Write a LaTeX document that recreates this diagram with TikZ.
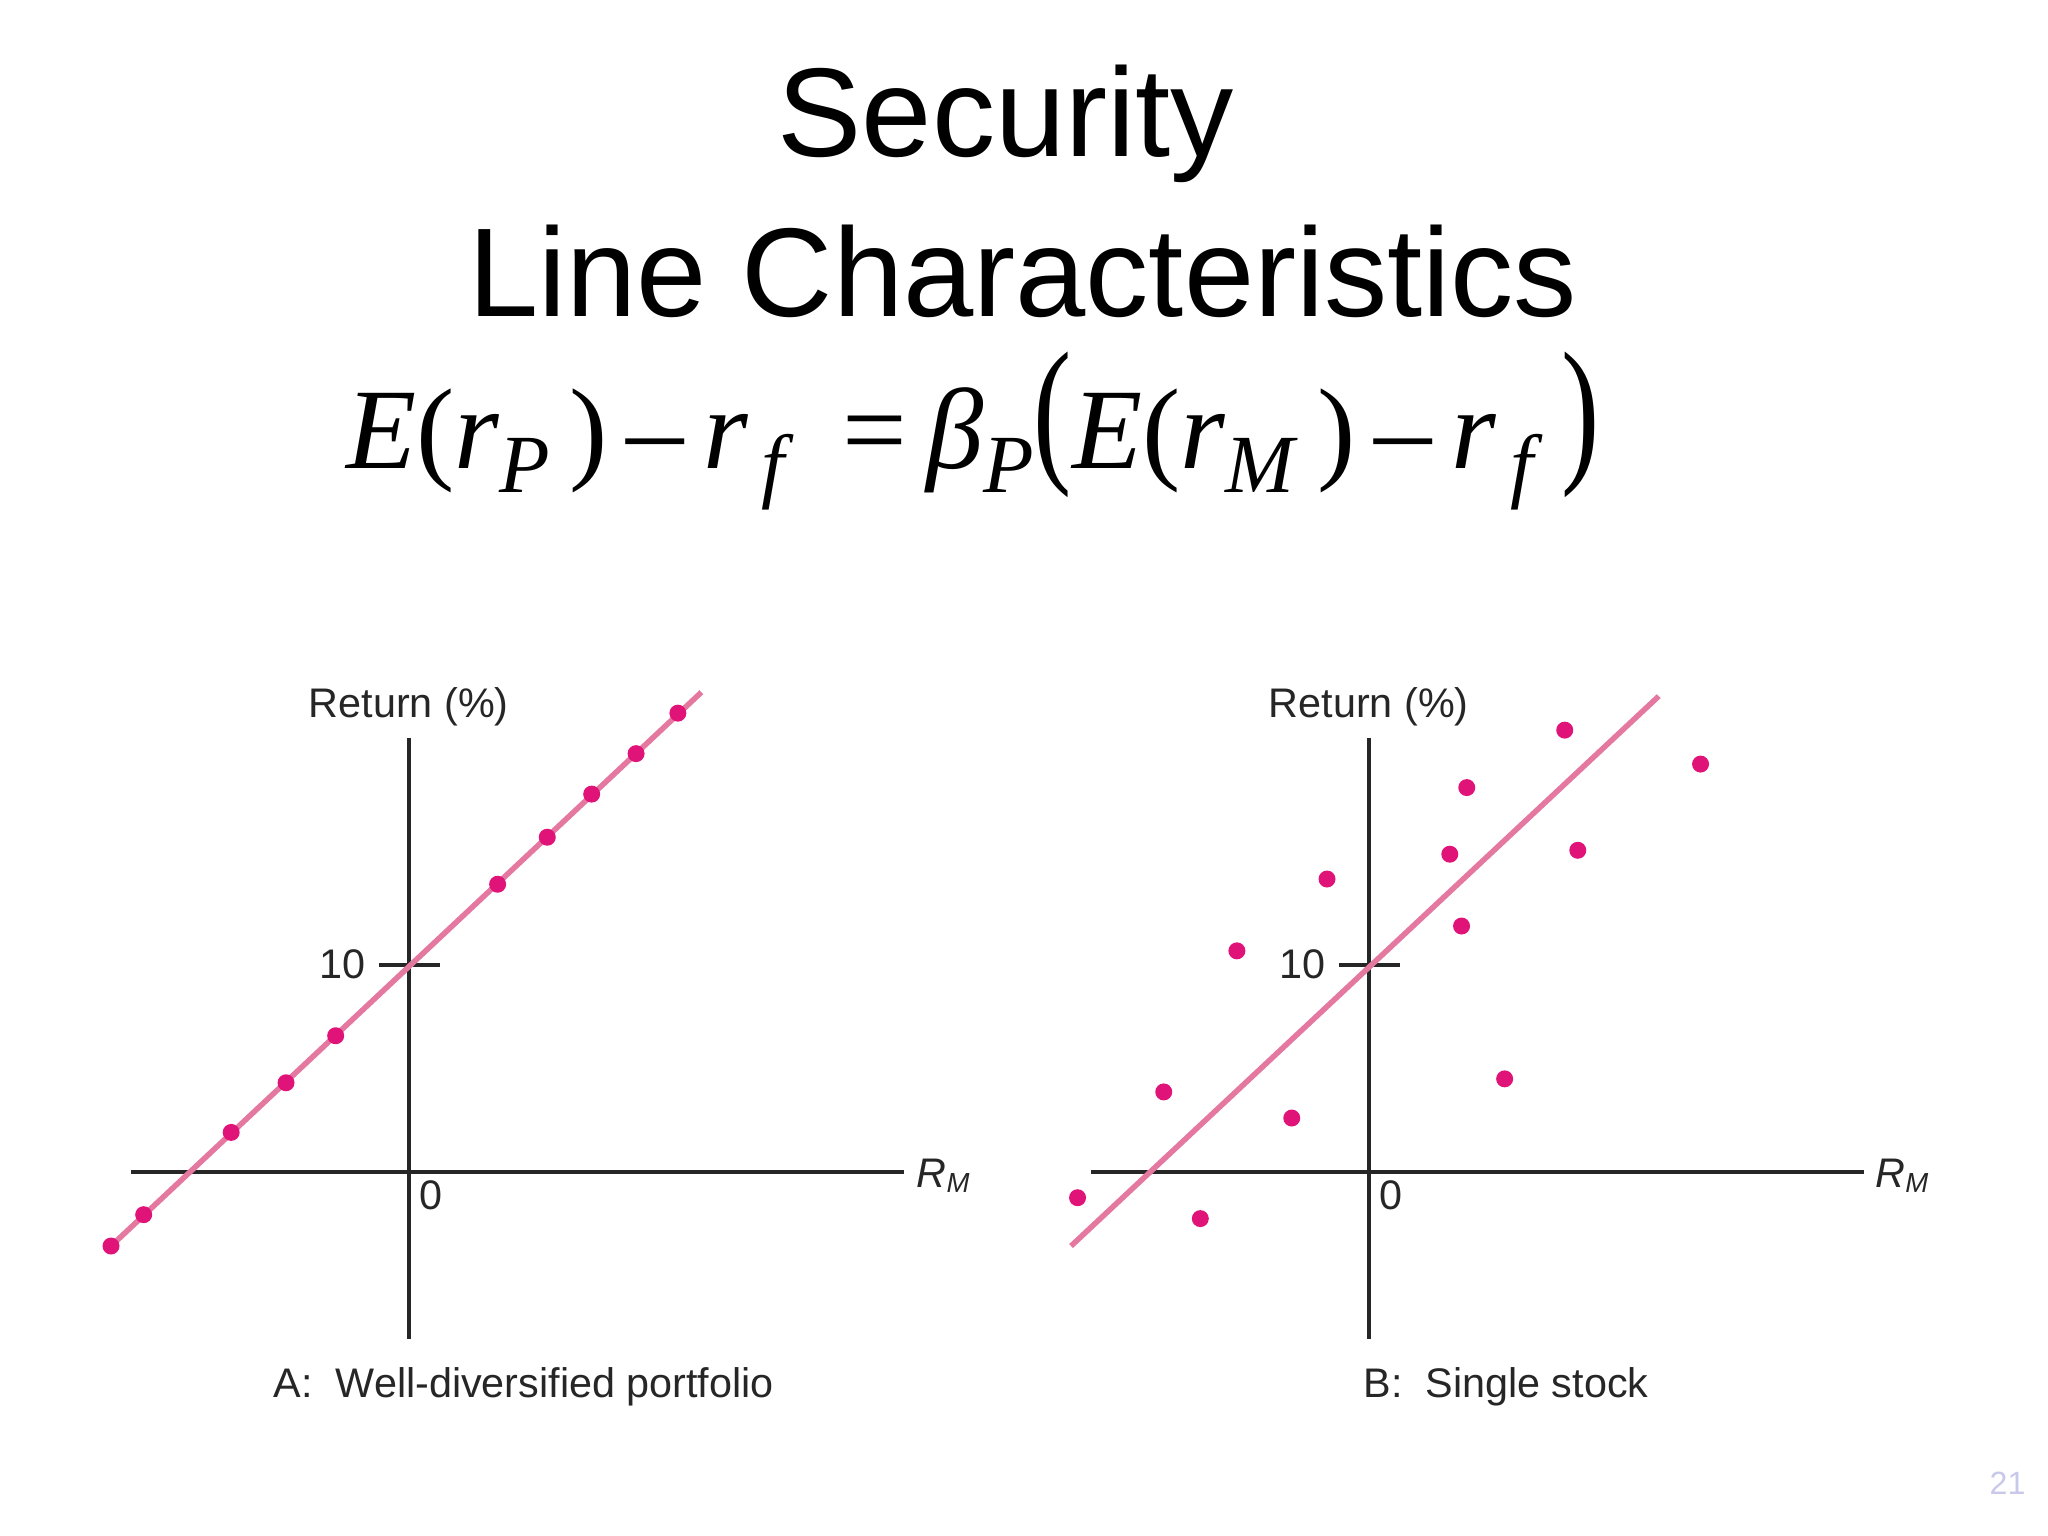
\documentclass[tikz,border=0pt]{standalone}
\usepackage{fontspec}
\setmainfont{Liberation Sans}
\newfontfamily\eqfont{Liberation Serif}
\newcommand{\iv}[1]{\textit{#1}}
\newcommand{\sbs}[1]{\raisebox{-0.45ex}{\fontsize{18}{20}\selectfont\textit{#1}}}
\begin{document}
\begin{tikzpicture}[x=0.01cm,y=-0.01cm,
  ax/.style={line width=0.9pt,black!85},
  fit/.style={line width=1.2pt,color={rgb,255:red,228;green,120;blue,160}},
  dot/.style={circle,fill={rgb,255:red,224;green,20;blue,120},inner sep=0pt,minimum size=0.13cm},
  lab/.style={font=\fontsize{9}{10}\selectfont,text=black!85}]
\useasboundingbox (0,0) rectangle (1568,1176);
\node (t1) at (770,95) {\fontsize{27.5}{32}\selectfont Security};
\node (t2) at (783,208) {\fontsize{27.5}{32}\selectfont Line Characteristics};
\node (eq) at (745,330) {\eqfont\fontsize{25}{30}\selectfont \iv{E}(\iv{r}\sbs{P}\,)\,–\,\iv{r}\sbs{\,f}\ \,=\,\iv{β}\sbs{P}\raisebox{0.1ex}{\scalebox{1}[1.4]{(}}\iv{E}(\iv{r}\sbs{M}\,)\,–\,\iv{r}\sbs{\,f}\,\raisebox{0.1ex}{\scalebox{1}[1.4]{)}}};
% Panel A
\coordinate (ay1) at (313,565); \coordinate (ay2) at (313,1025);
\coordinate (ax1) at (100,897); \coordinate (ax2) at (692,897);
\coordinate (at1) at (290,739); \coordinate (at2) at (337,739);
\draw[ax] (ay1) -- (ay2); \draw[ax] (ax1) -- (ax2); \draw[ax] (at1) -- (at2);
\coordinate (al1) at (85,954); \coordinate (al2) at (537,530);
\draw[fit] (al1) -- (al2);
\foreach \x/\y [count=\i] in {85/954,110/930,177/867,219/829,257/793,381/677,419/641,453/608,487/577,519/546}
  \node[dot] (a\i) at (\x,\y) {};
\node[lab] (aret) at (313,541) {Return (\%)};
\node[lab] (a10) at (262,738) {10};
\node[lab] (a0) at (330,915) {0};
\node[lab] (arm) at (723,900) {\itshape R\textsubscript{M}};
\node[lab] (acap) at (401,1062) {A:\ \ Well-diversified portfolio};
% Panel B
\coordinate (by1) at (1048,565); \coordinate (by2) at (1048,1025);
\coordinate (bx1) at (835,897); \coordinate (bx2) at (1427,897);
\coordinate (bt1) at (1025,739); \coordinate (bt2) at (1072,739);
\draw[ax] (by1) -- (by2); \draw[ax] (bx1) -- (bx2); \draw[ax] (bt1) -- (bt2);
\coordinate (bl1) at (820,954); \coordinate (bl2) at (1270,533);
\draw[fit] (bl1) -- (bl2);
\foreach \x/\y [count=\i] in {825/917,919/933,891/836,947/728,989/856,1016/673,1110/654,1123/603,1119/709,1152/826,1198/559,1208/651,1302/585}
  \node[dot] (b\i) at (\x,\y) {};
\node[lab] (bret) at (1048,541) {Return (\%)};
\node[lab] (b10) at (997,738) {10};
\node[lab] (b0) at (1065,915) {0};
\node[lab] (brm) at (1457,900) {\itshape R\textsubscript{M}};
\node[lab] (bcap) at (1153,1062) {B:\ \ Single stock};
\node[font=\fontsize{7}{8}\selectfont,text={rgb,255:red,200;green,200;blue,235}] (pg) at (1537,1136) {21};
\end{tikzpicture}
\end{document}
